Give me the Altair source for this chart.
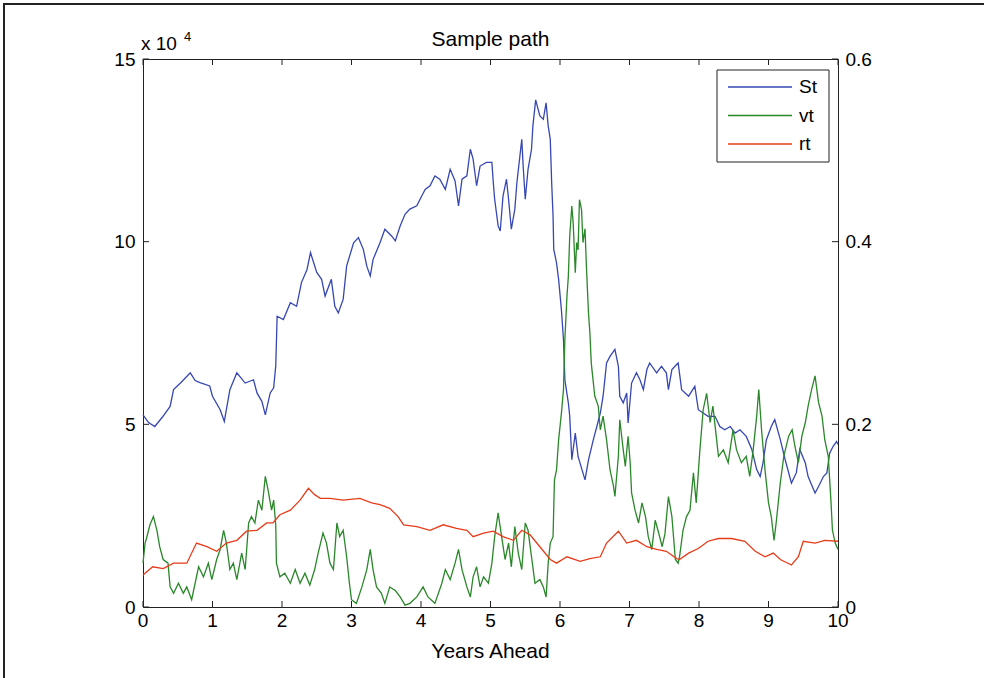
import altair as alt
import pandas as pd

# ---- simulated path: stock price St (x 10^4, left axis) ----
st_years = [0.00, 0.08, 0.17, 0.28, 0.39, 0.44, 0.55, 0.68, 0.75, 0.82, 0.96, 1.00, 1.11, 1.17, 1.25,
            1.35, 1.47, 1.59, 1.64, 1.71, 1.76, 1.83, 1.88, 1.91, 1.93, 2.02, 2.12, 2.21, 2.28, 2.36,
            2.41, 2.50, 2.57, 2.62, 2.71, 2.76, 2.81, 2.88, 2.93, 3.03, 3.10, 3.17, 3.22, 3.27, 3.31,
            3.41, 3.48, 3.58, 3.63, 3.70, 3.77, 3.84, 3.94, 4.01, 4.06, 4.13, 4.20, 4.27, 4.35, 4.42,
            4.49, 4.54, 4.59, 4.66, 4.71, 4.75, 4.80, 4.85, 4.94, 5.02, 5.04, 5.06, 5.11, 5.14, 5.18,
            5.23, 5.26, 5.30, 5.35, 5.38, 5.45, 5.47, 5.50, 5.54, 5.59, 5.61, 5.65, 5.71, 5.76, 5.80,
            5.83, 5.86, 5.88, 5.90, 5.91, 5.95, 5.98, 6.02, 6.05, 6.07, 6.12, 6.14, 6.17, 6.22, 6.26,
            6.33, 6.36, 6.41, 6.48, 6.53, 6.58, 6.62, 6.67, 6.72, 6.79, 6.84, 6.86, 6.91, 6.96, 6.98,
            7.03, 7.10, 7.15, 7.20, 7.25, 7.29, 7.39, 7.46, 7.53, 7.56, 7.61, 7.70, 7.75, 7.85, 7.94,
            7.99, 8.06, 8.13, 8.23, 8.30, 8.37, 8.45, 8.52, 8.59, 8.68, 8.76, 8.83, 8.88, 8.92, 8.97,
            9.04, 9.09, 9.17, 9.24, 9.33, 9.40, 9.45, 9.53, 9.57, 9.67, 9.72, 9.79, 9.84, 9.88, 9.93,
            9.98, 10.00]
st_vals = [5.26, 5.05, 4.94, 5.20, 5.49, 5.95, 6.15, 6.41, 6.20, 6.14, 6.05, 5.77, 5.40, 5.08, 5.95,
           6.41, 6.13, 6.22, 5.86, 5.63, 5.26, 5.86, 6.00, 6.60, 7.96, 7.87, 8.33, 8.23, 8.88, 9.24,
           9.70, 9.16, 8.97, 8.51, 8.97, 8.23, 8.05, 8.42, 9.33, 9.97, 10.11, 9.79, 9.33, 9.06, 9.51,
           9.97, 10.34, 10.15, 10.02, 10.43, 10.75, 10.89, 10.98, 11.25, 11.43, 11.53, 11.80, 11.71, 11.43, 11.98,
           11.66, 10.98, 11.71, 11.80, 12.53, 12.26, 11.53, 12.07, 12.17, 12.17, 11.62, 11.16, 10.43, 10.29, 11.25,
           11.71, 11.16, 10.34, 10.89, 11.62, 12.80, 12.07, 11.16, 11.98, 12.53, 13.17, 13.88, 13.44, 13.35, 13.80,
           13.17, 12.80, 11.62, 10.70, 9.79, 9.42, 8.97, 8.14, 7.32, 6.22, 5.59, 5.22, 4.03, 4.76, 4.12,
           3.67, 3.48, 4.03, 4.58, 4.94, 5.31, 5.77, 6.68, 6.86, 7.05, 6.59, 5.77, 5.59, 5.86, 5.04,
           6.13, 6.41, 6.22, 5.95, 6.50, 6.68, 6.41, 6.59, 6.41, 5.95, 6.50, 6.68, 5.95, 5.77, 6.04,
           5.40, 5.31, 5.22, 5.22, 4.94, 4.85, 4.94, 4.76, 4.85, 4.67, 4.31, 3.76, 3.57, 3.94, 4.58,
           4.94, 5.13, 4.58, 4.03, 3.39, 3.67, 4.31, 3.94, 3.57, 3.12, 3.30, 3.57, 3.67, 4.21, 4.40,
           4.53, 4.45]

# ---- variance vt (right axis) ----
vt_years = [0.00, 0.03, 0.05, 0.10, 0.15, 0.20, 0.24, 0.29, 0.36, 0.39, 0.44, 0.51, 0.58, 0.63, 0.70,
            0.75, 0.80, 0.87, 0.94, 0.99, 1.06, 1.11, 1.16, 1.20, 1.25, 1.30, 1.35, 1.42, 1.47, 1.52,
            1.56, 1.61, 1.66, 1.71, 1.76, 1.80, 1.85, 1.88, 1.91, 1.92, 1.97, 2.04, 2.12, 2.19, 2.26,
            2.33, 2.40, 2.47, 2.52, 2.59, 2.64, 2.69, 2.74, 2.79, 2.83, 2.88, 2.93, 2.97, 3.00, 3.07,
            3.15, 3.22, 3.27, 3.31, 3.36, 3.43, 3.48, 3.55, 3.63, 3.70, 3.77, 3.84, 3.94, 4.03, 4.10,
            4.20, 4.30, 4.35, 4.42, 4.49, 4.54, 4.59, 4.66, 4.71, 4.75, 4.80, 4.85, 4.90, 4.97, 5.02,
            5.06, 5.11, 5.16, 5.21, 5.26, 5.30, 5.35, 5.40, 5.45, 5.50, 5.54, 5.59, 5.64, 5.71, 5.76,
            5.80, 5.83, 5.86, 5.90, 5.92, 5.95, 5.98, 6.02, 6.05, 6.07, 6.10, 6.12, 6.14, 6.17, 6.19,
            6.22, 6.24, 6.26, 6.28, 6.31, 6.33, 6.36, 6.38, 6.41, 6.43, 6.45, 6.50, 6.55, 6.58, 6.62,
            6.67, 6.72, 6.77, 6.79, 6.84, 6.86, 6.91, 6.94, 6.98, 7.01, 7.03, 7.08, 7.13, 7.18, 7.23,
            7.27, 7.32, 7.37, 7.42, 7.47, 7.51, 7.56, 7.61, 7.66, 7.70, 7.72, 7.77, 7.82, 7.87, 7.92,
            7.96, 8.01, 8.06, 8.11, 8.16, 8.20, 8.28, 8.35, 8.42, 8.49, 8.54, 8.61, 8.68, 8.73, 8.78,
            8.83, 8.86, 8.90, 8.95, 9.00, 9.04, 9.08, 9.11, 9.17, 9.22, 9.29, 9.34, 9.38, 9.43, 9.48,
            9.53, 9.57, 9.62, 9.67, 9.72, 9.77, 9.81, 9.86, 9.90, 9.92, 9.96, 10.00]
vt_vals = [0.048, 0.070, 0.075, 0.090, 0.099, 0.084, 0.066, 0.052, 0.048, 0.022, 0.015, 0.026, 0.015, 0.022, 0.008,
           0.026, 0.044, 0.033, 0.048, 0.030, 0.052, 0.063, 0.084, 0.070, 0.041, 0.048, 0.030, 0.059, 0.041, 0.092,
           0.099, 0.092, 0.117, 0.106, 0.143, 0.128, 0.106, 0.117, 0.090, 0.048, 0.033, 0.037, 0.026, 0.041, 0.026,
           0.037, 0.024, 0.041, 0.059, 0.081, 0.070, 0.048, 0.041, 0.092, 0.077, 0.084, 0.055, 0.026, 0.008, 0.004,
           0.022, 0.041, 0.063, 0.041, 0.022, 0.015, 0.004, 0.022, 0.018, 0.011, 0.002, 0.004, 0.011, 0.022, 0.011,
           0.004, 0.026, 0.041, 0.030, 0.048, 0.063, 0.041, 0.022, 0.011, 0.033, 0.044, 0.022, 0.033, 0.026, 0.048,
           0.077, 0.103, 0.077, 0.052, 0.070, 0.044, 0.088, 0.059, 0.041, 0.092, 0.084, 0.055, 0.026, 0.030, 0.022,
           0.011, 0.048, 0.070, 0.077, 0.139, 0.150, 0.183, 0.212, 0.238, 0.293, 0.340, 0.362, 0.406, 0.439, 0.420,
           0.366, 0.399, 0.391, 0.446, 0.435, 0.399, 0.414, 0.373, 0.322, 0.300, 0.267, 0.231, 0.220, 0.194, 0.209,
           0.183, 0.150, 0.132, 0.121, 0.165, 0.205, 0.172, 0.154, 0.187, 0.158, 0.125, 0.106, 0.092, 0.114, 0.099,
           0.077, 0.063, 0.095, 0.081, 0.066, 0.080, 0.121, 0.099, 0.052, 0.048, 0.055, 0.084, 0.099, 0.106, 0.147,
           0.114, 0.169, 0.216, 0.234, 0.202, 0.220, 0.165, 0.172, 0.158, 0.194, 0.172, 0.158, 0.165, 0.143, 0.172,
           0.209, 0.238, 0.194, 0.150, 0.114, 0.099, 0.073, 0.092, 0.136, 0.165, 0.187, 0.194, 0.176, 0.158, 0.187,
           0.202, 0.220, 0.238, 0.253, 0.224, 0.209, 0.183, 0.165, 0.114, 0.084, 0.070, 0.063]

# ---- short rate rt (right axis) ----
rt_years = [0.00, 0.14, 0.29, 0.44, 0.63, 0.77, 0.92, 1.06, 1.20, 1.35, 1.49, 1.64, 1.78, 1.87, 1.97,
            2.12, 2.26, 2.38, 2.47, 2.55, 2.69, 2.88, 3.12, 3.29, 3.41, 3.55, 3.67, 3.75, 3.94, 4.13,
            4.32, 4.51, 4.66, 4.75, 4.90, 5.04, 5.18, 5.33, 5.45, 5.57, 5.71, 5.86, 5.95, 6.10, 6.29,
            6.43, 6.58, 6.67, 6.84, 6.96, 7.10, 7.25, 7.39, 7.53, 7.68, 7.72, 7.85, 7.99, 8.13, 8.28,
            8.47, 8.66, 8.81, 8.95, 9.07, 9.17, 9.33, 9.43, 9.50, 9.67, 9.81, 10.00]
rt_vals = [0.035, 0.044, 0.042, 0.048, 0.048, 0.070, 0.066, 0.061, 0.070, 0.073, 0.083, 0.084, 0.092, 0.092, 0.101,
           0.106, 0.117, 0.130, 0.123, 0.119, 0.119, 0.117, 0.119, 0.114, 0.112, 0.108, 0.099, 0.090, 0.088, 0.084,
           0.090, 0.086, 0.084, 0.077, 0.081, 0.083, 0.077, 0.073, 0.084, 0.079, 0.066, 0.052, 0.048, 0.055, 0.050,
           0.053, 0.055, 0.070, 0.083, 0.070, 0.073, 0.066, 0.063, 0.061, 0.053, 0.052, 0.059, 0.064, 0.072, 0.075,
           0.075, 0.072, 0.061, 0.055, 0.059, 0.052, 0.046, 0.055, 0.072, 0.070, 0.073, 0.072]

series_names = ["St", "vt", "rt"]
series_colors = ["#3647b3", "#2a872a", "#e63c1a"]

x_ticks = [0, 1, 2, 3, 4, 5, 6, 7, 8, 9, 10]
left_ticks = [0, 5, 10, 15]
right_ticks = [0, 0.2, 0.4, 0.6]

W, H = 695, 548
FONT = "Liberation Sans"
FS = 19       # tick labels
FS_T = 21     # titles
INK = "#222222"

st_df = pd.DataFrame({"year": st_years, "value": st_vals, "series": "St"})
right_df = pd.concat([
    pd.DataFrame({"year": vt_years, "value": vt_vals, "series": "vt"}),
    pd.DataFrame({"year": rt_years, "value": rt_vals, "series": "rt"}),
], ignore_index=True)

x_scale = alt.Scale(domain=[0, 10], nice=False, zero=False)
yl_scale = alt.Scale(domain=[0, 15], nice=False)
yr_scale = alt.Scale(domain=[0, 0.6], nice=False)
color_scale = alt.Scale(domain=series_names, range=series_colors)

st_line = alt.Chart(st_df).mark_line(strokeWidth=1.3).encode(
    x=alt.X("year:Q", scale=x_scale, axis=None),
    y=alt.Y("value:Q", scale=yl_scale,
            axis=alt.Axis(orient="left", values=left_ticks, format="d", title=None, labelPadding=8)),
    color=alt.Color("series:N", scale=color_scale, legend=None),
)

right_lines = alt.Chart(right_df).mark_line(strokeWidth=1.3).encode(
    x=alt.X("year:Q", scale=x_scale, axis=None),
    y=alt.Y("value:Q", scale=yr_scale,
            axis=alt.Axis(orient="right", values=right_ticks, format=".1~f", title=None, labelPadding=7)),
    color=alt.Color("series:N", scale=color_scale, legend=None),
)

# inward tick marks, placed through the scales
tick_len = 6
xt_df = pd.DataFrame({"t": x_ticks})
lt_df = pd.DataFrame({"t": left_ticks})
rt_tick_df = pd.DataFrame({"t": right_ticks})

bottom_ticks = alt.Chart(xt_df).mark_rule(color=INK).encode(
    x=alt.X("t:Q", scale=x_scale, axis=None), y=alt.value(H), y2=alt.value(H - tick_len))
top_ticks = alt.Chart(xt_df).mark_rule(color=INK).encode(
    x=alt.X("t:Q", scale=x_scale, axis=None), y=alt.value(0), y2=alt.value(tick_len))
left_tick_marks = alt.Chart(lt_df).mark_rule(color=INK).encode(
    y=alt.Y("t:Q", scale=yl_scale, axis=None), x=alt.value(0), x2=alt.value(tick_len))
right_tick_marks = alt.Chart(rt_tick_df).mark_rule(color=INK).encode(
    y=alt.Y("t:Q", scale=yr_scale, axis=None), x=alt.value(W), x2=alt.value(W - tick_len))

# x tick labels, positioned by the shared x scale
x_labels = alt.Chart(xt_df).mark_text(font=FONT, fontSize=FS, color="black", align="center",
                                      baseline="middle").encode(
    x=alt.X("t:Q", scale=x_scale, axis=None), y=alt.value(H + 14), text=alt.Text("t:Q", format="d"))

one = pd.DataFrame({"a": [0]})
x_title = alt.Chart(one).mark_text(font=FONT, fontSize=FS_T, color="black", align="center",
                                   baseline="middle").encode(
    x=alt.value(W / 2), y=alt.value(H + 45), text=alt.value("Years Ahead"))
title_txt = alt.Chart(one).mark_text(font=FONT, fontSize=FS_T, color="black", align="center",
                                     baseline="alphabetic").encode(
    x=alt.value(W / 2), y=alt.value(-13), text=alt.value("Sample path"))
exp_base = alt.Chart(one).mark_text(font=FONT, fontSize=FS, color="black", align="left",
                                    baseline="alphabetic").encode(
    x=alt.value(-2), y=alt.value(-9), text=alt.value("x 10"))
exp_sup = alt.Chart(one).mark_text(font=FONT, fontSize=13, color="black", align="left",
                                   baseline="alphabetic").encode(
    x=alt.value(41), y=alt.value(-18), text=alt.value("4"))

# figure border: only its top and left edges fall inside the page
border = alt.Chart(one).mark_rect(fill="transparent", stroke=INK, strokeWidth=2).encode(
    x=alt.value(-139), x2=alt.value(W + 300), y=alt.value(-55), y2=alt.value(H + 300))

# legend box with one entry per series
legend_df = pd.DataFrame({"series": series_names})
legend_y = alt.Y("series:N", scale=alt.Scale(type="point", domain=series_names, range=[28, 85], padding=0),
                 axis=None)
legend_box = alt.Chart(one).mark_rect(fill="white", stroke=INK, strokeWidth=1).encode(
    x=alt.value(574), x2=alt.value(686), y=alt.value(11), y2=alt.value(103))
legend_lines = alt.Chart(legend_df).mark_rule(strokeWidth=1.3).encode(
    x=alt.value(585), x2=alt.value(649), y=legend_y,
    color=alt.Color("series:N", scale=color_scale, legend=None))
legend_text = alt.Chart(legend_df).mark_text(font=FONT, fontSize=FS, color="black", align="left",
                                             baseline="middle").encode(
    x=alt.value(656), y=legend_y, text="series:N")

chart = alt.layer(
    st_line, right_lines,
    bottom_ticks, top_ticks, left_tick_marks, right_tick_marks, x_labels,
    legend_box, legend_lines, legend_text,
    x_title, title_txt, exp_base, exp_sup, border,
).resolve_scale(y="independent").properties(
    width=W, height=H,
    autosize=alt.AutoSizeParams(type="none"),
    padding={"left": 143, "top": 59, "right": 146, "bottom": 71},
    background="white",
).configure_view(
    stroke=INK, strokeWidth=1
).configure_axis(
    ticks=False, domain=False, grid=False,
    labelFont=FONT, labelFontSize=FS, labelColor="black",
    titleFont=FONT, titleFontSize=FS, titleFontWeight="normal", titleColor="black",
)

chart.save("out.html", embed_options={"renderer": "svg", "actions": False})
